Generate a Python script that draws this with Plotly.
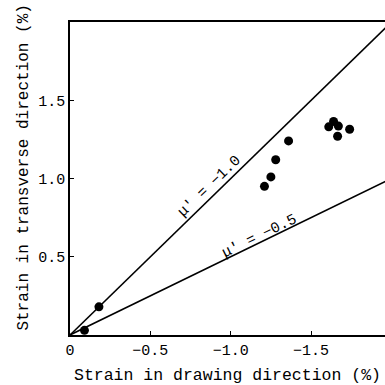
import plotly.graph_objects as go

# measured points (strain in drawing direction, strain in transverse direction), %
drawing_strain = [-0.09, -0.18, -1.21, -1.25, -1.28, -1.36, -1.61, -1.64, -1.67, -1.665, -1.74]
transverse_strain = [0.03, 0.18, 0.95, 1.01, 1.12, 1.24, 1.33, 1.365, 1.335, 1.27, 1.315]

# reference lines mu' = -1.0 and mu' = -0.5  (transverse = mu' * drawing)
line_x = [0.0, -2.2]
mu_values = [-1.0, -0.5]
mu_labels = ["μ′ = −1.0", "μ′ = −0.5"]

x_ticks = [0, -0.5, -1.0, -1.5]
x_tick_text = ["0", "−0.5", "−1.0", "−1.5"]
y_ticks = [0.5, 1.0, 1.5]
y_tick_text = ["0.5", "1.0", "1.5"]

FONT = "Liberation Mono, Courier New, monospace"

fig = go.Figure()
for mu in mu_values:
    fig.add_trace(go.Scatter(
        x=line_x, y=[mu * x for x in line_x],
        mode="lines", line=dict(color="black", width=1.6),
        showlegend=False, hoverinfo="skip"))

fig.add_trace(go.Scatter(
    x=drawing_strain, y=transverse_strain, mode="markers",
    marker=dict(color="black", size=9),
    showlegend=False))

# labels along the lines
fig.add_annotation(x=-0.87, y=0.95, text=mu_labels[0], showarrow=False,
                   textangle=-44, font=dict(family=FONT, size=15, color="black"))
fig.add_annotation(x=-1.18, y=0.63, text=mu_labels[1], showarrow=False,
                   textangle=-26, font=dict(family=FONT, size=15, color="black"))

# y axis title (placed slightly above the plot centre, as in the original)
fig.add_annotation(xref="paper", yref="paper", x=-0.149, y=0.535,
                   text="Strain in transverse direction (%)", showarrow=False,
                   textangle=-90, xanchor="center", yanchor="middle",
                   font=dict(family=FONT, size=16, color="black"))

fig.update_layout(
    width=385, height=385,
    margin=dict(l=70, r=0, t=22, b=47),
    paper_bgcolor="white", plot_bgcolor="white",
    font=dict(family=FONT, size=15, color="black"),
    xaxis=dict(
        range=[0, -1.96], showgrid=False, zeroline=False,
        showline=True, linecolor="black", linewidth=1.5, mirror=True,
        ticks="inside", ticklen=4, tickcolor="black",
        tickvals=x_ticks, ticktext=x_tick_text,
        title=dict(text="Strain in drawing direction (%)", standoff=14,
                   font=dict(family=FONT, size=16.5)),
    ),
    yaxis=dict(
        range=[0, 2.0], showgrid=False, zeroline=False,
        showline=True, linecolor="black", linewidth=1.5, mirror=False,
        ticks="inside", ticklen=4, tickcolor="black",
        tickvals=y_ticks, ticktext=y_tick_text,
    ),
)

fig.write_html(
    "out.html",
    config={"displayModeBar": False},
    post_script=(
        "document.documentElement.style.margin='0';"
        "document.documentElement.style.overflow='hidden';"
        "document.body.style.margin='0';"
        "document.body.style.overflow='hidden';"
        "window.scrollTo(0,0);"
    ),
)
